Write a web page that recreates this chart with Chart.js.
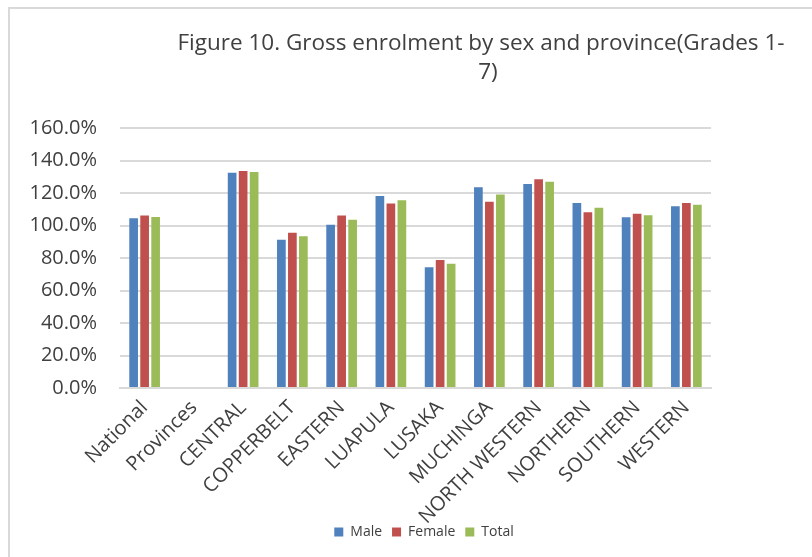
<!DOCTYPE html>
<html>
<head>
<meta charset="utf-8">
<script src="https://cdn.jsdelivr.net/npm/chart.js@4"></script>
<style>
  html, body { margin: 0; padding: 0; background: #fff; overflow: hidden; }
  #wrap { position: relative; width: 812px; height: 557px; }
  #frame {
    position: absolute; left: 8px; top: 7px; width: 1000px; height: 1000px;
    border: 2px solid #d9d9d9; pointer-events: none;
  }
</style>
</head>
<body>
<div id="wrap">
  <canvas id="myChart" width="812" height="557"></canvas>
  <div id="frame"></div>
</div>
<script>
const categories = ["National", "Provinces", "CENTRAL", "COPPERBELT", "EASTERN", "LUAPULA",
  "LUSAKA", "MUCHINGA", "NORTH WESTERN", "NORTHERN", "SOUTHERN", "WESTERN"];
const male   = [104.5, null, 132.4, 91.3, 100.4, 118.1, 74.3, 123.6, 125.5, 113.9, 105.1, 111.9];
const female = [106.1, null, 133.5, 95.6, 106.1, 113.5, 78.8, 114.6, 128.5, 108.2, 107.3, 113.8];
const total  = [105.3, null, 132.9, 93.4, 103.5, 115.6, 76.5, 119.1, 126.9, 111.0, 106.3, 112.7];
const titleLines = ["Figure 10. Gross enrolment by sex and province(Grades 1-", "7)"];

const textColor = "#404040";
const fontFamily = "'Open Sans', 'Noto Sans', sans-serif";

// let tick labels spill outside their own axis box
const noLabelClip = (scale) => { scale._computeLabelArea = () => undefined; };

// title drawn by hand so it can sit right of the plot centre
const titlePlugin = {
  id: "sideTitle",
  afterDraw(chart) {
    const c = chart.ctx;
    c.save();
    c.fillStyle = textColor;
    c.font = "22.5px " + fontFamily;
    c.textAlign = "center";
    c.textBaseline = "alphabetic";
    c.fillText(titleLines[0], 481, 50);
    c.fillText(titleLines[1], 488, 79);
    c.restore();
  },
};

const ctx = document.getElementById("myChart");

const chart = new Chart(ctx, {
  type: "bar",
  data: {
    labels: categories,
    datasets: [
      { label: "Male", data: male, backgroundColor: "#4f81bd" },
      { label: "Female", data: female, backgroundColor: "#c0504d" },
      { label: "Total", data: total, backgroundColor: "#9bbb59" },
    ],
  },
  options: {
    responsive: false,
    animation: false,
    layout: { padding: { top: 128, left: 36, right: 0, bottom: 8 } },
    datasets: {
      bar: { categoryPercentage: 0.67, barPercentage: 0.79 },
    },
    scales: {
      x: {
        grid: { display: false },
        border: { color: "#d9d9d9", width: 2 },
        ticks: {
          color: textColor,
          font: { family: fontFamily, size: 20 },
          minRotation: 45,
          maxRotation: 45,
          padding: 0,
          autoSkip: false,
        },
        afterFit(scale) { scale.height = 127; },
        afterUpdate: noLabelClip,
      },
      y: {
        min: 0,
        max: 160,
        grid: { color: "#d9d9d9", lineWidth: 2, drawTicks: false },
        border: { display: false },
        ticks: {
          stepSize: 20,
          color: textColor,
          padding: 23,
          font: { family: fontFamily, size: 20 },
          callback: (v) => v.toFixed(1) + "%",
        },
        afterFit(scale) { scale.width = 84; },
        afterUpdate: noLabelClip,
      },
      // empty right-hand spacer, keeps the legend centred on the whole width
      spacer: {
        type: "linear",
        position: "right",
        grid: { display: false },
        border: { display: false },
        ticks: { display: false },
        afterFit(scale) { scale.width = 101; },
      },
    },
    plugins: {
      tooltip: { enabled: false },
      title: { display: false },
      legend: {
        position: "bottom",
        labels: {
          color: textColor,
          boxWidth: 9,
          boxHeight: 9,
          padding: 10,
          font: { family: fontFamily, size: 14 },
        },
      },
    },
  },
  plugins: [titlePlugin],
});
</script>
</body>
</html>
